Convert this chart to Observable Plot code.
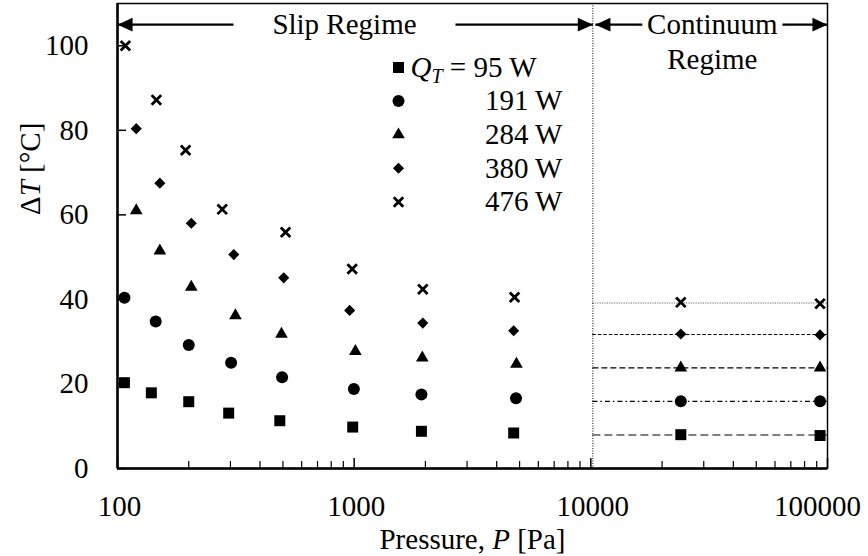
<!DOCTYPE html>
<html><head><meta charset="utf-8">
<script src="https://cdn.jsdelivr.net/npm/d3@7"></script>
<script src="https://cdn.jsdelivr.net/npm/@observablehq/plot@0.6"></script>
<style>body{margin:0;background:#fff}</style>
</head><body><div id="chart"></div><script>
// ---- data ----
const seriesLabels = ["Q_T = 95 W", "191 W", "284 W", "380 W", "476 W"];
const pSq = [107, 139, 200, 295, 485, 986, 1924, 4720];
const dtSq = [20.3, 17.9, 15.8, 13.1, 11.3, 9.8, 8.8, 8.4];
const pCi = [107, 145, 200, 302, 496, 997, 1924, 4830];
const dtCi = [40.4, 34.8, 29.2, 25.0, 21.6, 18.8, 17.5, 16.6];
const pTr = [120, 151, 205, 315, 493, 1012, 1940, 4850];
const dtTr = [61.0, 51.5, 42.9, 36.2, 31.8, 27.7, 26.2, 24.7];
const pDi = [120, 151, 205, 310, 504, 957, 1950, 4720];
const dtDi = [80.4, 67.5, 58.0, 50.6, 45.1, 37.4, 34.4, 32.6];
const pX = [108, 146, 194, 277, 513, 981, 1950, 4760];
const dtX = [100.0, 87.2, 75.3, 61.3, 55.9, 47.2, 42.4, 40.5];
const contP = [24000, 93000];
const contSq = [8.0, 7.8];
const contCi = [15.9, 15.9];
const contTr = [23.8, 23.8];
const contDi = [31.8, 31.6];
const contX = [39.3, 39.0];
const regimeP = 10200;
const xTicks = [100, 1000, 10000, 100000];
const yTicks = [0, 20, 40, 60, 80, 100];
const arrowY = 105;
const arrowLines = [[100, 309], [2680, 10200], [10450, 16500], [64500, 100000]];
const arrowTips = [100, 10200, 10450, 100000];
const regimeTexts = [
  {x: 910, y: 105, t: "Slip Regime"},
  {x: 32600, y: 105, t: "Continuum"},
  {x: 32600, y: 96.8, t: "Regime"}
];

// ---- layout / style ----
const W = 868, H = 556, mL = 117, mR = 41, mT = 3, mB = 88;
const fw = W - mL - mR, fh = H - mT - mB;
const FS = 29;
const FF = "Liberation Serif, DejaVu Serif, Times New Roman, serif";
const zip = (xs, ys) => xs.map((x, i) => ({x, y: ys[i]}));
const series = [
  {slip: zip(pSq, dtSq), cont: zip(contP, contSq), symbol: "square", r: 6.2, lineStroke: "#555", dash: "8,4", lw: 1.5},
  {slip: zip(pCi, dtCi), cont: zip(contP, contCi), symbol: "circle", r: 6.0, lineStroke: "#000", dash: "5,3,1.5,3", lw: 1.2},
  {slip: zip(pTr, dtTr), cont: zip(contP, contTr), symbol: "triangle", r: 4.7, lineStroke: "#000", dash: "6,3", lw: 1.2},
  {slip: zip(pDi, dtDi), cont: zip(contP, contDi), symbol: "diamond2", r: 5.0, lineStroke: "#000", dash: "3.5,2", lw: 1.2},
  {slip: zip(pX, dtX), cont: zip(contP, contX), symbol: "times", r: 4.4, lineStroke: "#666", dash: "1.2,1.2", lw: 1.2}
];
const arrowHead = {draw(ctx, size) { const l = Math.sqrt(size); ctx.moveTo(0, 0); ctx.lineTo(-l, -l * 0.45); ctx.lineTo(-l, l * 0.45); ctx.closePath(); }};

const minorX = [];
for (const d of [100, 1000, 10000]) for (let k = 2; k <= 9; k++) minorX.push(d * k);

const marks = [];
series.forEach(s => {
  const lvl = d3.mean(s.cont, d => d.y);
  marks.push(Plot.ruleY([lvl], {y: d => d, x1: regimeP, x2: 100000, stroke: s.lineStroke, strokeWidth: s.lw, strokeDasharray: s.dash}));
});
marks.push(Plot.ruleX([regimeP], {x: d => d, stroke: "#000", strokeWidth: 1, strokeDasharray: "1,1.5"}));
marks.push(Plot.tickY(yTicks, {y: d => d, insetRight: fw - 9, stroke: "#000", strokeWidth: 1.5}));
marks.push(Plot.tickX(xTicks, {x: d => d, insetTop: fh - 10, stroke: "#000", strokeWidth: 1.5}));
marks.push(Plot.tickX(minorX, {x: d => d, insetTop: fh - 7, stroke: "#000", strokeWidth: 1.2}));
marks.push(Plot.frame({stroke: "#000", strokeWidth: 1.5}));
marks.push(Plot.ruleX([100], {x: d => d, stroke: "#000", strokeWidth: 2.5}));
marks.push(Plot.ruleY([0], {y: d => d, stroke: "#000", strokeWidth: 2.5}));
series.forEach(s => {
  const filled = s.symbol !== "times";
  const opts = {x: "x", y: "y", symbol: s.symbol, r: s.r};
  if (filled) Object.assign(opts, {fill: "#000", stroke: "none"});
  else Object.assign(opts, {fill: "none", stroke: "#000", strokeWidth: 2.8});
  marks.push(Plot.dot(s.slip, opts));
  marks.push(Plot.dot(s.cont, opts));
});
marks.push(Plot.link(arrowLines, {x1: d => d[0], x2: d => d[1], y1: arrowY, y2: arrowY, stroke: "#000", strokeWidth: 2.4}));
marks.push(Plot.dot(arrowTips, {x: d => d, y: arrowY, symbol: arrowHead, r: 8.5, fill: "#000", stroke: "none",
  rotate: (d, i) => (i % 2 === 0 ? 180 : 0)}));
const T = {fontSize: FS, fill: "#000"};
marks.push(Plot.text(regimeTexts, {x: "x", y: "y", text: "t", lineAnchor: "middle", ...T}));
series.forEach((s, i) => {
  const dy = 64 + 33.6 * i;
  const filled = s.symbol !== "times";
  const o = {frameAnchor: "top-left", dx: 281, dy, symbol: s.symbol, r: s.r};
  if (filled) Object.assign(o, {fill: "#000", stroke: "none"});
  else Object.assign(o, {fill: "none", stroke: "#000", strokeWidth: 2.8});
  marks.push(Plot.dot([0], o));
  marks.push(Plot.text([seriesLabels[i]], {frameAnchor: "top-left", dx: i === 0 ? 293 : 445, dy, text: d => d,
    textAnchor: i === 0 ? "start" : "end", lineAnchor: "middle", ...T}));
});
marks.push(Plot.text(yTicks, {y: d => d, text: d => String(d), frameAnchor: "left", dx: -29, textAnchor: "end", lineAnchor: "middle", ...T}));
marks.push(Plot.text(xTicks.slice(0, 3), {x: d => d, text: d => String(d), frameAnchor: "bottom", dy: 38, lineAnchor: "middle", dx: 2, ...T}));
marks.push(Plot.text(xTicks.slice(3), {x: d => d, text: d => String(d), frameAnchor: "bottom", dy: 38, lineAnchor: "middle", dx: -10, ...T}));
marks.push(Plot.text(["Pressure, P [Pa]"], {frameAnchor: "bottom", dy: 71, text: d => d, lineAnchor: "middle", ...T}));
marks.push(Plot.text(["ΔT [°C]"], {frameAnchor: "left", dx: -87, dy: -21, rotate: -90, text: d => d, lineAnchor: "middle", ...T}));

const chart = Plot.plot({
  width: W, height: H,
  marginLeft: mL, marginRight: mR, marginTop: mT, marginBottom: mB,
  x: {type: "log", domain: [100, 100000], axis: null},
  y: {domain: [0, 110], axis: null},
  style: {background: "#fff", color: "#000"},
  marks
});
document.getElementById("chart").appendChild(chart);

d3.select(chart).selectAll("text").each(function () {
  const t = this.textContent;
  this.setAttribute("font-family", FF);
  this.style.fontFamily = FF;
  if (t === "Pressure, P [Pa]") this.innerHTML = 'Pressure, <tspan font-style="italic">P</tspan> [Pa]';
  else if (t === "ΔT [°C]") this.innerHTML = 'Δ<tspan font-style="italic">T</tspan> [°C]';
  else if (t === "Q_T = 95 W") this.innerHTML = '<tspan font-style="italic">Q</tspan><tspan font-style="italic" font-size="20" dy="6">T</tspan><tspan dy="-6"> = 95 W</tspan>';
});
d3.select(chart).selectAll("g").each(function () {
  if (this.getAttribute("font-family")) this.setAttribute("font-family", FF);
});
chart.setAttribute("font-family", FF);
</script></body></html>
